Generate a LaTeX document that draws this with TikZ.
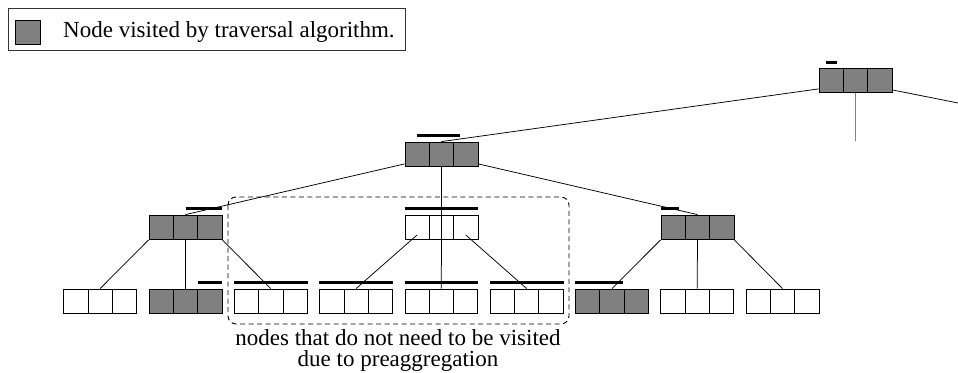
\documentclass[tikz,border=0pt]{standalone}
\usepackage{fontspec}
\setmainfont{Liberation Serif}

\begin{document}
\begin{tikzpicture}[x=1pt,y=-1pt,
  cell/.style={draw,line width=0.8pt,minimum width=24.3pt,minimum height=24.5pt,inner sep=0pt},
  barline/.style={line width=3.5pt},
  edge/.style={line width=0.75pt},
  txt/.style={font=\fontsize{23}{20.5}\selectfont,inner sep=0pt}]

\useasboundingbox (0,0) rectangle (958,372);

% Cell size
\def\CW{24.3}
\def\CH{24.5}

% Legend
\draw[black!80,line width=0.8pt] (8,8) rectangle (405,50);
\node[cell,fill=gray,minimum width=25pt,minimum height=24pt] (legsq) at (27.5,32) {};
\node[txt,anchor=base west] (legtxt) at (63,37) {Node visited by traversal algorithm.};

% Tree nodes (name/left/top/fill)
\foreach \n/\x/\y/\f in {root/819/68/gray, top/405/142/gray,
    left/149/215/gray, mid/405/215/white, right/661/215/gray,
    leaf1/63.7/289/white, leaf2/149/289/gray, leaf3/234.3/289/white,
    leaf4/319.6/289/white, leaf5/404.9/289/white, leaf6/490.2/289/white,
    leaf7/575.5/289/gray, leaf8/660.8/289/white, leaf9/746.1/289/white}
  \foreach \i in {1,2,3}
    \node[cell,fill=\f] (\n-\i) at ({\x+(\i-0.5)*\CW},{\y+0.5*\CH}) {};

% Preaggregation bars
\draw[barline] ([shift={(7,-5)}]root-1.north west) -- ++(11,0);
\draw[barline] ([shift={(12,-6)}]top-1.north west) -- ++(43,0);
\draw[barline] ([shift={(37,-6)}]left-1.north west) -- ++(36,0);
\draw[barline] ([yshift=6pt]mid-1.north west) -- ([yshift=6pt]mid-3.north east);
\draw[barline] ([yshift=6pt]right-1.north west) -- ++(18,0);
\draw[barline] ([shift={(49,-6)}]leaf2-1.north west) -- ++(24,0);
\foreach \n in {leaf3,leaf4,leaf5,leaf6}
  \draw[barline] ([yshift=6pt]\n-1.north west) -- ([yshift=6pt]\n-3.north east);
\draw[barline] ([yshift=6pt]leaf7-1.north west) -- ++(48,0);

% Free ends
\coordinate (rootout) at (958,103);
\coordinate (rootdown) at (855.5,141);

% Tree edges
\draw[edge] ([yshift=4pt]root-1.south west) -- (top-2.north);
\draw[edge] ([yshift=3pt]root-3.south east) -- (rootout);
\draw[edge,gray] (root-2.south) -- (rootdown);
\draw[edge] ([yshift=3pt]top-1.south west) -- (left-2.north);
\draw[edge] (top-2.south) -- (leaf5-2.north);
\draw[edge] ([yshift=3pt]top-3.south east) -- (right-2.north);
\draw[edge] (left-1.south west) -- (leaf1-2.north);
\draw[edge] (left-2.south) -- (leaf2-2.north);
\draw[edge] (left-3.south east) -- (leaf3-2.north);
\draw[edge] ([yshift=5pt]mid-1.south) -- (leaf4-2.north);
\draw[edge] ([yshift=5pt]mid-3.south) -- (leaf6-2.north);
\draw[edge] (right-1.south west) -- (leaf7-2.north);
\draw[edge] (right-2.south) -- (leaf8-2.north);
\draw[edge] (right-3.south east) -- (leaf9-2.north);

% Nodes that are skipped
\draw[black,line width=0.9pt,dash pattern=on 5pt off 3.5pt,rounded corners=8pt] (228,197) rectangle (569,324);
\node[txt,align=center,anchor=base] (note) at (398,366) {nodes that do not need to be visited\\due to preaggregation};

\end{tikzpicture}
\end{document}
